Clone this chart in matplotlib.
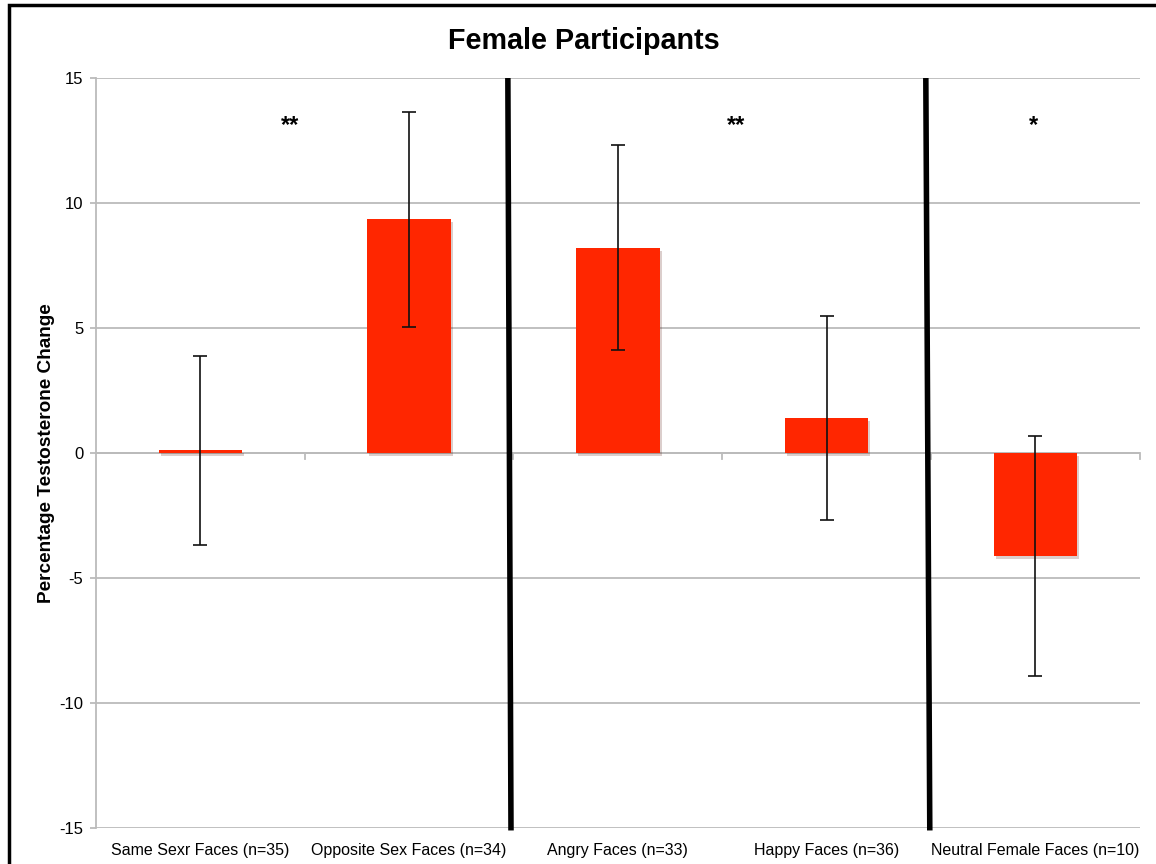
import numpy as np
import matplotlib.pyplot as plt
import matplotlib.patheffects as path_effects
from matplotlib.patches import Rectangle

plt.rcParams['font.family'] = ['Liberation Sans', 'DejaVu Sans']
plt.rcParams['axes.unicode_minus'] = False

labels = ['Same Sexr Faces (n=35)', 'Opposite Sex Faces (n=34)', 'Angry Faces (n=33)',
          'Happy Faces (n=36)', 'Neutral Female Faces (n=10)']
change = [0.1, 9.35, 8.2, 1.4, -4.12]
err_hi = [3.78, 4.3, 4.12, 4.08, 4.8]
err_lo = [3.78, 4.3, 4.08, 4.08, 4.8]

# significance stars: (x, y, text)
star_x = [0.43, 2.565, 3.99]
star_y = [13.1, 13.1, 13.1]
star_txt = ['**', '**', '*']

# group separators (top x, bottom x)
sep_top = [1.473, 3.475]
sep_bot = [1.488, 3.494]

fig = plt.figure(figsize=(11.56, 8.64), dpi=100)
ax = fig.add_axes([0.083, 0.0417, 0.903, 0.868])

ind = np.arange(len(change))
bars = ax.bar(ind, change, 0.4, color='#ff2600', zorder=3)
for b in bars:
    b.set_path_effects([path_effects.SimplePatchShadow(offset=(1.5, -2), alpha=0.2),
                        path_effects.Normal()])
ax.errorbar(ind, change, yerr=[err_lo, err_hi], fmt='none', ecolor='#111111',
            elinewidth=1.2, capsize=5, capthick=1.2, zorder=4)

ax.set_xlim(-0.5, 4.5)
ax.set_ylim(-15, 15)
ax.set_yticks(np.arange(-15, 16, 5))
ax.yaxis.grid(True, color='#bbbbbb', linewidth=1.3, zorder=0)
ax.axhline(0, color='#bbbbbb', linewidth=1.3, zorder=1)

for s in ['top', 'right', 'bottom']:
    ax.spines[s].set_visible(False)
ax.spines['left'].set_color('#bbbbbb')
ax.spines['left'].set_linewidth(1.3)
ax.tick_params(axis='y', color='#bbbbbb', length=4, width=1.3, labelsize=12, pad=5)
ax.set_xticks(ind)
ax.set_xticklabels(labels, fontsize=11.5)
ax.tick_params(axis='x', length=0, pad=11)

# small ticks on the zero line between categories
for xb in np.arange(0.5, 4.6, 1.0):
    ax.plot([xb, xb], [0, -0.25], color='#bbbbbb', linewidth=1.3, zorder=1, clip_on=False)

for xt, xb in zip(sep_top, sep_bot):
    ax.plot([xt, xb], [15, -15.1], color='black', linewidth=4, zorder=5,
            clip_on=False, solid_capstyle='butt')

for x, y, t in zip(star_x, star_y, star_txt):
    ax.text(x, y, t, ha='center', va='center', fontsize=17, fontweight='bold')

ax.set_ylabel('Percentage Testosterone Change', fontsize=13.7, fontweight='bold')
ax.yaxis.set_label_coords(-0.039, 0.5)
fig.text(0.505, 0.953, 'Female Participants', ha='center', va='center',
         fontsize=20.7, fontweight='bold')

# outer frame
fig.patches.append(Rectangle((0.0075, -0.05), 1.1, 1.044, transform=fig.transFigure,
                             fill=False, edgecolor='black', linewidth=2.5))

plt.savefig('out.png', dpi=100)
